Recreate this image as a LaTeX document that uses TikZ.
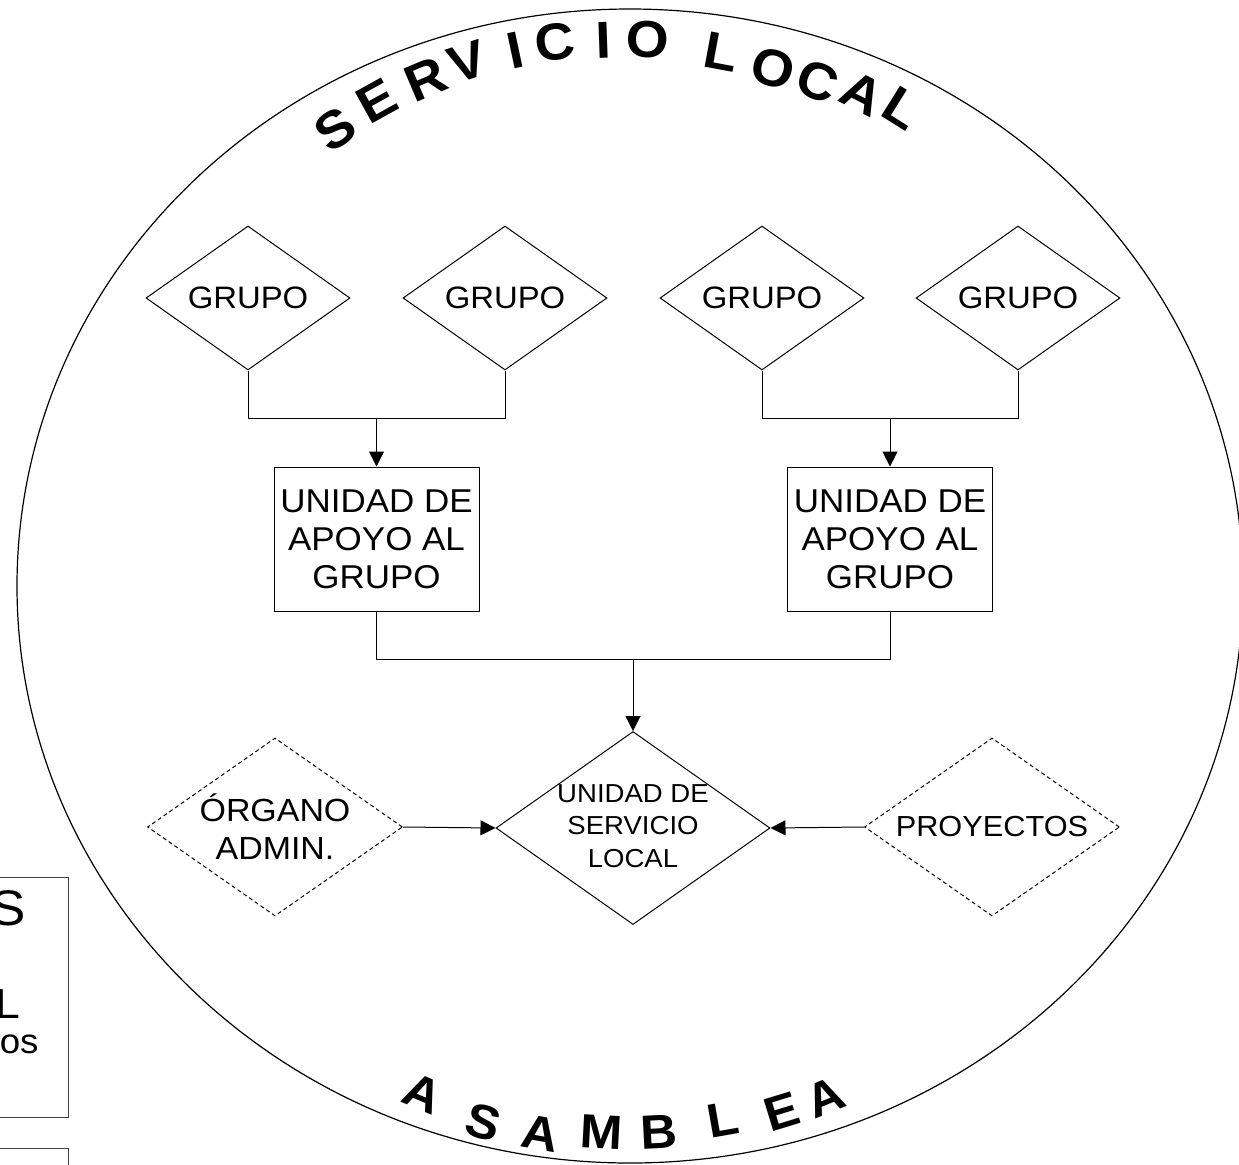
\documentclass[tikz,border=0pt]{standalone}
\usepackage{fontspec}
\setmainfont{Liberation Sans}[FakeStretch=1.06]
\usetikzlibrary{shapes.geometric,arrows.meta}
\tikzstyle{grupo}=[diamond, draw, inner sep=0pt, aspect=1.42, minimum width=102pt, minimum height=72pt, font=\fontsize{15.5}{18}\selectfont]
\tikzstyle{unidad}=[rectangle, draw, inner sep=0pt, minimum width=102.5pt, minimum height=72pt, align=center, font=\fontsize{16.5}{19}\selectfont]
\tikzstyle{central}=[diamond, draw, inner sep=0pt, minimum width=137pt, minimum height=96.5pt]
\tikzstyle{externo}=[diamond, draw, dash pattern=on 2pt off 1.5pt, inner sep=0pt, aspect=1.43, minimum width=127.5pt, minimum height=89pt, align=center]
\tikzstyle{flecha}=[-{Triangle[length=7.5pt,width=7.5pt]}]
\tikzstyle{arriba}=[inner sep=0pt, font=\fontsize{26}{26}\selectfont\bfseries]
\tikzstyle{abajo}=[inner sep=0pt, font=\fontsize{24}{24}\selectfont\bfseries]

\begin{document}
\begin{tikzpicture}[x=0.5pt, y=-0.5pt, line width=0.5pt]
\useasboundingbox (0,0) rectangle (1239,1164);
\clip (0,0) rectangle (1239,1164);
% Service
    \draw[line width=0.6pt] (630,586) ellipse [x radius=613, y radius=577];
% Groups
    \node[grupo] (g1) at (248,298) {GRUPO};
    \node[grupo] (g2) at (505,298) {GRUPO};
    \node[grupo] (g3) at (762,298) {GRUPO};
    \node[grupo] (g4) at (1018,298) {GRUPO};
    \node[unidad] (u1) at (376.5,539) {UNIDAD DE\\APOYO AL\\GRUPO};
    \node[unidad] (u2) at (890,539) {UNIDAD DE\\APOYO AL\\GRUPO};
    \node[central] (usl) at (633,828) {};
    \node[font=\fontsize{13}{16.25}\selectfont, align=center] (uslt) at (633,826) {UNIDAD DE\\SERVICIO\\LOCAL};
    \node[externo, font=\fontsize{16}{19}\selectfont] (org) at (275,827) {ÓRGANO\\ADMIN.};
    \node[externo, font=\fontsize{14.5}{17}\selectfont] (proy) at (992,827) {PROYECTOS};
% Connectors
    \coordinate (j1) at (376.5,418);
    \coordinate (j2) at (890,418);
    \coordinate (j3) at (633,659);
    \draw (g1.south) |- (j1) -| (g2.south);
    \draw (g3.south) |- (j2) -| (g4.south);
    \draw[flecha] (j1) -- (u1.north);
    \draw[flecha] (j2) -- (u2.north);
    \draw (u1.south) |- (j3) -| (u2.south);
    \draw[flecha] (j3) -- (usl.north);
    \draw[flecha] (org.east) -- (usl.west);
    \draw[flecha] (proy.west) -- (usl.east);
% Top lettering
    \node[arriba, rotate=35] (t1) at (335,129) {S};
    \node[arriba, rotate=29] (t2) at (377,101) {E};
    \node[arriba, rotate=23] (t3) at (426,79) {R};
    \node[arriba, rotate=18] (t4) at (467,62) {V};
    \node[arriba, rotate=12] (t5) at (515,50) {I};
    \node[arriba, rotate=7.5] (t6) at (555,42) {C};
    \node[arriba, rotate=2] (t7) at (604,40) {I};
    \node[arriba, rotate=-2.5] (t8) at (648,40) {O};
    \node[arriba, rotate=-10.5] (t9) at (721,52) {L};
    \node[arriba, rotate=-16.5] (t10) at (773,68) {O};
    \node[arriba, rotate=-22] (t11) at (818,81) {C};
    \node[arriba, rotate=-27] (t12) at (862,94) {A};
    \node[arriba, rotate=-32] (t13) at (902,108) {L};
% Bottom lettering
    \node[abajo, rotate=-23] (b1) at (423,1093) {A};
    \node[abajo, rotate=-16] (b2) at (483,1122) {S};
    \node[abajo, rotate=-10] (b3) at (540,1133) {A};
    \node[abajo, rotate=-3] (b4) at (602,1132) {M};
    \node[abajo, rotate=3] (b5) at (659,1132) {B};
    \node[abajo, rotate=10] (b6) at (723,1120) {L};
    \node[abajo, rotate=17] (b7) at (782,1112) {E};
    \node[abajo, rotate=22] (b8) at (825,1097) {A};
% Side boxes
    \draw[black!75] (-10,877) rectangle (68,1117);
    \draw[black!75] (-10,1148) rectangle (68,1190);
    \node[anchor=base east, inner sep=0pt, font=\fontsize{25}{25}\selectfont] (s1) at (26,925) {S};
    \node[anchor=base east, inner sep=0pt, font=\fontsize{21}{21}\selectfont] (s2) at (21,1018) {L};
    \node[anchor=base east, inner sep=0pt, font=\fontsize{17.3}{17.3}\selectfont] (s3) at (39,1053) {os};
\end{tikzpicture}
\end{document}
